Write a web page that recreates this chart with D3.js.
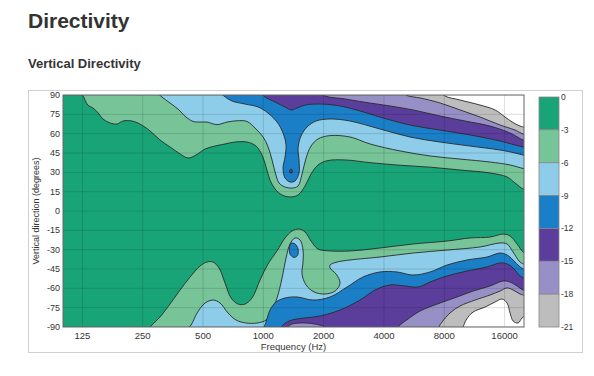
<!DOCTYPE html>
<html><head><meta charset="utf-8">
<script src="https://cdn.jsdelivr.net/npm/d3@7"></script>
<style>
body{margin:0;background:#fff;}
svg{display:block;}
text{font-family:"Liberation Sans",Arial,Helvetica,sans-serif;fill:#333;}
</style>
</head><body>
<svg id="c" width="594" height="376"></svg>
<script>
// ---------- data ----------
const levels = [0, -3, -6, -9, -12, -15, -18, -21];
const bandColors = ["#19a478", "#76c498", "#8dcdea", "#1a7fc6", "#5b3e9c", "#9690c6", "#bdbdbd", "#ffffff"];
const freqTicks = [125, 250, 500, 1000, 2000, 4000, 8000, 16000];
const angleTicks = [90, 75, 60, 45, 30, 15, 0, -15, -30, -45, -60, -75, -90];

// contour lines [frequency Hz, angle deg]; upper side (region above line is below the level)
const top3 = [[118,93],[125,90],[133,82.2],[141,79.9],[150,76],[158,71.4],[172,68.3],[186,67.5],[199,69.8],[221,69.8],[242,67.5],[272,62.1],[305,55.1],[342,49.7],[384,44.3],[421,41.1],[461,43.4],[512,48.1],[574,50.4],[644,52],[722,53.5],[829,53.5],[919,50.4],[985,43.4],[1032,34.1],[1080,24],[1144,17.1],[1240,12.4],[1359,10.9],[1490,12.4],[1615,19.4],[1730,28.7],[1875,35.7],[2080,39],[2558,39.6],[3409,37.5],[4813,35.5],[6794,34],[9592,31.8],[13540,29.5],[16460,26.4],[18050,21.7],[19790,17],[21500,15]];
const top6 = [[290,93],[312,88.4],[342,83.8],[375,79.1],[411,72.9],[446,69.5],[483,69],[523,69],[587,67],[659,69],[739,70],[829,69.5],[919,63.6],[998,57.4],[1056,49.7],[1105,39.6],[1144,30.3],[1198,21.7],[1283,18.6],[1391,17.8],[1490,19.4],[1560,28.7],[1634,41.1],[1730,50.4],[1875,55.9],[2153,58.5],[2709,57.4],[3409,52],[4813,46.6],[6794,42.7],[9592,40.3],[13540,38],[17040,35.7],[19790,33],[21500,32]];
const top9 = [[600,93],[636,89.2],[698,85.3],[810,83],[941,80.7],[1055,76],[1170,69.1],[1254,60.5],[1298,51.2],[1283,41.9],[1254,33.4],[1283,25.6],[1359,22.5],[1440,23.3],[1507,29.5],[1507,39.6],[1490,48.9],[1542,58.2],[1653,65.2],[1833,69.8],[2153,71.4],[2709,69.8],[3824,63.6],[5399,57.4],[7622,53.5],[10760,50.4],[15190,47.3],[18050,45],[19790,43.4],[20960,42.7]];
const top12 = [[955,93],[1020,88.4],[1144,84.6],[1283,80.7],[1375,78.4],[1473,79.9],[1615,82.2],[1919,83],[2415,81.5],[3039,77.6],[3824,72.9],[5399,66.7],[7622,62.8],[10760,59],[15190,54.3],[18050,51.2],[19790,49.7],[20960,48.9]];
const top15 = [[1850,93],[2032,89.2],[2558,86.9],[3145,84.6],[4290,81.5],[5588,78.4],[7622,73.7],[10160,69.8],[13540,65.9],[17040,60.5],[19790,55.1],[20960,54.3]];
const top18 = [[4900,93],[5216,89.6],[6057,87.7],[7622,83.8],[9592,78.4],[12070,72.9],[15190,66.7],[18050,62.8],[19790,59.7],[20960,59]];
const top21 = [[7600,93],[8072,89.2],[9592,86.1],[12070,82.2],[14340,78.4],[16090,72.9],[17440,69.1],[19120,65.9],[20960,64.4]];

// lower side (region below line is below the level)
const bot3 = [[262,-93],[278,-88.4],[305,-82.2],[342,-72.2],[384,-61.3],[431,-51.2],[483,-42.7],[523,-39.6],[561,-39.6],[601,-44.2],[644,-55.9],[690,-67.5],[748,-72.2],[810,-72.2],[878,-67.5],[963,-53.5],[1055,-41.1],[1170,-31],[1283,-20.9],[1391,-15.5],[1507,-14],[1615,-16.3],[1730,-23.3],[1875,-29.5],[2153,-31],[2709,-31],[3824,-28.7],[5588,-25.6],[8260,-23.3],[10760,-20.9],[13540,-20.2],[15720,-17.9],[17040,-19.4],[18470,-25.6],[19790,-31.8],[20960,-33.4]];
const bot6 = [[410,-93],[436,-88.4],[467,-79.1],[512,-71.4],[561,-69.1],[608,-71.4],[666,-79.1],[731,-84.6],[820,-86.9],[930,-86.9],[1031,-84.6],[1105,-76.8],[1170,-67.5],[1240,-52],[1298,-36.5],[1359,-25.6],[1440,-20.9],[1525,-22.5],[1578,-30.3],[1578,-39.6],[1560,-48.9],[1634,-57.4],[1791,-62.8],[2032,-64.4],[2280,-62.1],[2415,-55.9],[2306,-48.9],[2153,-44.2],[2153,-41.9],[2333,-39.6],[2709,-38],[3824,-35.7],[5588,-32.6],[8260,-30.3],[12070,-27.9],[15190,-24.8],[16460,-25.6],[17640,-31.8],[19120,-39.6],[20960,-42.7]];
const bot9 = [[990,-93],[1031,-86.1],[1080,-76.8],[1157,-70.6],[1283,-67.5],[1473,-66.7],[1770,-69.1],[2153,-66.7],[2617,-59],[3145,-51.2],[3824,-47.3],[4650,-47.3],[5588,-49.7],[6794,-47.3],[8260,-41.9],[10390,-38],[13080,-35.7],[15190,-32.6],[16460,-34.1],[17640,-38],[19120,-43.4],[20960,-46.6]];
const bot12 = [[1200,-93],[1268,-87.7],[1391,-84.6],[1615,-83],[1919,-81.5],[2415,-76.8],[3039,-69.1],[3610,-61.3],[4290,-57.4],[5097,-58.2],[5919,-59],[6794,-55.1],[8260,-50.4],[10390,-46.6],[13080,-43.4],[15190,-40.3],[16460,-41.1],[17640,-44.2],[19120,-50.4],[20960,-53.5]];
const bot15 = [[4500,-93],[4813,-88.4],[5276,-83.8],[6057,-77.6],[7622,-71.4],[9267,-66.7],[11140,-62.1],[13540,-58.2],[15720,-54.3],[17040,-55.1],[18470,-58.2],[19790,-61.3],[20960,-62.1]];
const bot15b = [[1280,-93],[1359,-88.4],[1525,-86.9],[1810,-87.7],[2032,-90],[2153,-93]];
const bot18 = [[7300,-93],[7799,-86.1],[8550,-79.1],[9592,-73.7],[11400,-69.1],[13540,-65.2],[15190,-62.1],[16460,-59.7],[17640,-61.3],[19120,-64.4],[20960,-66]];
const bot21 = [[9800,-93],[10280,-84.6],[11140,-78.4],[12790,-74.5],[14340,-70.6],[15540,-68.3],[16460,-71.4],[17040,-79.1],[17640,-85.3],[18680,-86.9],[19560,-83],[20960,-79.9]];

// closed islands
const isl9 = [[1375,-25],[1440,-25.6],[1490,-29.5],[1480,-34.5],[1420,-36],[1360,-33.5],[1350,-28.5]];
const isl12 = [[1355,31.5],[1375,32.6],[1395,31.5],[1395,30.2],[1375,29.2],[1355,30.2]];

// ---------- drawing ----------
const svg = d3.select("#c");
const L = 63, R = 524, T = 95, B = 327;
const x = d3.scaleLog().domain([100, 20000]).range([L, R]);
const y = d3.scaleLinear().domain([-90, 90]).range([B, T]);

// outer frame
svg.append("rect").attr("x", 28.5).attr("y", 90.5).attr("width", 554).attr("height", 262)
  .attr("fill", "none").attr("stroke", "#d0d0d0").attr("stroke-width", 1);

svg.append("text").attr("x", 28).attr("y", 28).attr("font-size", 21).attr("font-weight", "bold")
  .text("Directivity");
svg.append("text").attr("x", 28).attr("y", 68).attr("font-size", 13).attr("font-weight", "bold")
  .text("Vertical Directivity");

svg.append("clipPath").attr("id", "pc").append("rect")
  .attr("x", L).attr("y", T).attr("width", R - L).attr("height", B - T);

const g = svg.append("g").attr("clip-path", "url(#pc)");
g.append("rect").attr("x", L).attr("y", T).attr("width", R - L).attr("height", B - T)
  .attr("fill", bandColors[0]);

const line = d3.line().x(d => x(d[0])).y(d => y(d[1])).curve(d3.curveCatmullRom.alpha(0.5));
const closed = d3.line().x(d => x(d[0])).y(d => y(d[1])).curve(d3.curveCatmullRomClosed.alpha(0.5));
const strokeCol = "#2a2a2a";

function region(pts, side) {
  const yo = side === "top" ? T - 15 : B + 15;
  return line(pts) + `L${R + 16},${yo}L${L - 16},${yo}Z`;
}

const upper = [top3, top6, top9, top12, top15, top18, top21];
const lower = [[bot3], [bot6], [bot9], [bot12], [bot15, bot15b], [bot18], [bot21]];
const islands = {3: [isl9], 4: [isl12]};

for (let k = 1; k <= 7; k++) {
  const col = bandColors[k];
  g.append("path").attr("d", region(upper[k - 1], "top"))
    .attr("fill", col).attr("stroke", strokeCol).attr("stroke-width", 0.9);
  lower[k - 1].forEach(c => {
    g.append("path").attr("d", region(c, "bottom"))
      .attr("fill", col).attr("stroke", strokeCol).attr("stroke-width", 0.9);
  });
  (islands[k] || []).forEach(c => {
    g.append("path").attr("d", closed(c))
      .attr("fill", col).attr("stroke", strokeCol).attr("stroke-width", 0.9);
  });
}

// grid
g.selectAll(".vg").data(freqTicks).enter().append("line")
  .attr("x1", d => x(d)).attr("x2", d => x(d)).attr("y1", T).attr("y2", B)
  .attr("stroke", "rgba(0,0,0,0.17)").attr("stroke-width", 0.8);
g.selectAll(".hg").data(angleTicks).enter().append("line")
  .attr("x1", L).attr("x2", R).attr("y1", d => y(d)).attr("y2", d => y(d))
  .attr("stroke", "rgba(0,0,0,0.17)").attr("stroke-width", 0.8);

// plot border
svg.append("rect").attr("x", L).attr("y", T).attr("width", R - L).attr("height", B - T)
  .attr("fill", "none").attr("stroke", "#666").attr("stroke-width", 1);

// axes labels
svg.selectAll(".yt").data(angleTicks).enter().append("text")
  .attr("x", L - 3).attr("y", d => y(d)).attr("dy", "0.35em")
  .attr("text-anchor", "end").attr("font-size", 9).text(d => d);
svg.selectAll(".xt").data(freqTicks).enter().append("text")
  .attr("x", d => x(d)).attr("y", 339).attr("text-anchor", "middle")
  .attr("font-size", 9.5).text(d => d);
svg.append("text").attr("x", (L + R) / 2).attr("y", 350).attr("text-anchor", "middle")
  .attr("font-size", 9.5).text("Frequency (Hz)");
svg.append("text").attr("transform", `translate(39,${(T + B) / 2}) rotate(-90)`)
  .attr("text-anchor", "middle").attr("font-size", 9).text("Vertical direction (degrees)");

// colorbar
const cy = d3.scaleLinear().domain([-21, 0]).range([327, 97]);
const cb = svg.append("g");
d3.range(7).forEach(i => {
  cb.append("rect").attr("x", 539).attr("y", cy(levels[i]))
    .attr("width", 20).attr("height", cy(levels[i + 1]) - cy(levels[i]))
    .attr("fill", bandColors[i]).attr("stroke", "#888").attr("stroke-width", 0.8);
});
cb.selectAll("text").data(levels).enter().append("text")
  .attr("x", 561).attr("y", d => cy(d)).attr("dy", "0.35em")
  .attr("font-size", 8.5).text(d => d);
</script>
</body></html>
